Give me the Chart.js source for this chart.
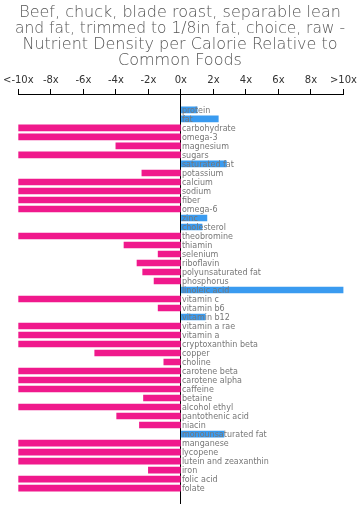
<!DOCTYPE html>
<html>
<head>
<meta charset="utf-8">
<script src="https://cdn.jsdelivr.net/npm/chart.js@4"></script>
<style>
  html, body { margin: 0; padding: 0; background: #fff; }
  #wrap { width: 360px; height: 514px; }
</style>
</head>
<body>
<div id="wrap"><canvas id="densityChart" width="360" height="514"></canvas></div>
<script>
const titleLines = [
  "Beef, chuck, blade roast, separable lean",
  "and fat, trimmed to 1/8in fat, choice, raw -",
  "Nutrient Density per Calorie Relative to",
  "Common Foods",
];

const nutrients = [
  "protein", "fat", "carbohydrate", "omega-3", "magnesium", "sugars",
  "saturated fat", "potassium", "calcium", "sodium", "fiber", "omega-6",
  "zinc", "cholesterol", "theobromine", "thiamin", "selenium", "riboflavin",
  "polyunsaturated fat", "phosphorus", "linoleic acid", "vitamin c",
  "vitamin b6", "vitamin b12", "vitamin a rae", "vitamin a",
  "cryptoxanthin beta", "copper", "choline", "carotene beta",
  "carotene alpha", "caffeine", "betaine", "alcohol ethyl",
  "pantothenic acid", "niacin", "monounsaturated fat", "manganese",
  "lycopene", "lutein and zeaxanthin", "iron", "folic acid", "folate",
];

// relative density, clipped to +/-10
const density = [
  1.0, 2.3, -10, -10, -4.0, -10,
  2.8, -2.4, -10, -10, -10, -10,
  1.6, 1.3, -10, -3.5, -1.4, -2.7,
  -2.35, -1.65, 10, -10,
  -1.4, 1.5, -10, -10,
  -10, -5.3, -1.05, -10,
  -10, -10, -2.3, -10,
  -3.95, -2.55, 2.65, -10,
  -10, -10, -2.0, -10, -10,
];

const tickLabels = ["<-10x", "-8x", "-6x", "-4x", "-2x", "0x", "2x", "4x", "6x", "8x", ">10x"];

const pink = "#f0198c";
const blue = "#3a9bf0";

// nutrient names written over the bars, starting at the zero line
const nameLabels = {
  id: "nameLabels",
  afterDatasetsDraw(chart) {
    const { ctx, scales } = chart;
    const x0 = scales.x.getPixelForValue(0) + 1;
    ctx.save();
    ctx.font = "8px 'DejaVu Sans'";
    ctx.fillStyle = "#777";
    ctx.textAlign = "left";
    ctx.textBaseline = "middle";
    nutrients.forEach((name, i) => {
      ctx.fillText(name, x0, scales.y.getPixelForValue(i) + 0.5);
    });
    ctx.restore();
  },
};

new Chart(document.getElementById("densityChart"), {
  type: "bar",
  data: {
    datasets: [
      {
        data: density.map((v, i) => ({ x: v, y: i })),
        backgroundColor: density.map((v) => (v < 0 ? pink : blue)),
        barThickness: 6,
      },
    ],
  },
  options: {
    indexAxis: "y",
    responsive: false,
    animation: false,
    layout: { padding: { left: 15, right: 15, bottom: 10, top: 0 } },
    plugins: {
      legend: { display: false },
      tooltip: { enabled: false },
      title: {
        display: true,
        text: titleLines,
        color: "#555",
        font: { family: "'DejaVu Sans'", size: 16, weight: 200, lineHeight: 1.0 },
        padding: { top: 5, bottom: 2 },
      },
    },
    scales: {
      x: {
        position: "top",
        min: -10,
        max: 10,
        ticks: {
          stepSize: 2,
          color: "#333",
          font: { family: "'DejaVu Sans'", size: 10 },
          padding: 3,
          maxRotation: 0,
          minRotation: 0,
          autoSkip: false,
          callback: (v) => tickLabels[Math.round((v + 10) / 2)],
        },
        grid: {
          drawOnChartArea: true,
          color: (c) => (c.tick && c.tick.value === 0 ? "#000" : "rgba(0,0,0,0)"),
          tickColor: "#000",
          tickLength: 5,
        },
        border: { color: "#000" },
      },
      y: {
        type: "linear",
        reverse: true,
        offset: false,
        min: -1.77,
        max: 43.77,
        display: false,
      },
    },
  },
  plugins: [nameLabels],
});
</script>
</body>
</html>
